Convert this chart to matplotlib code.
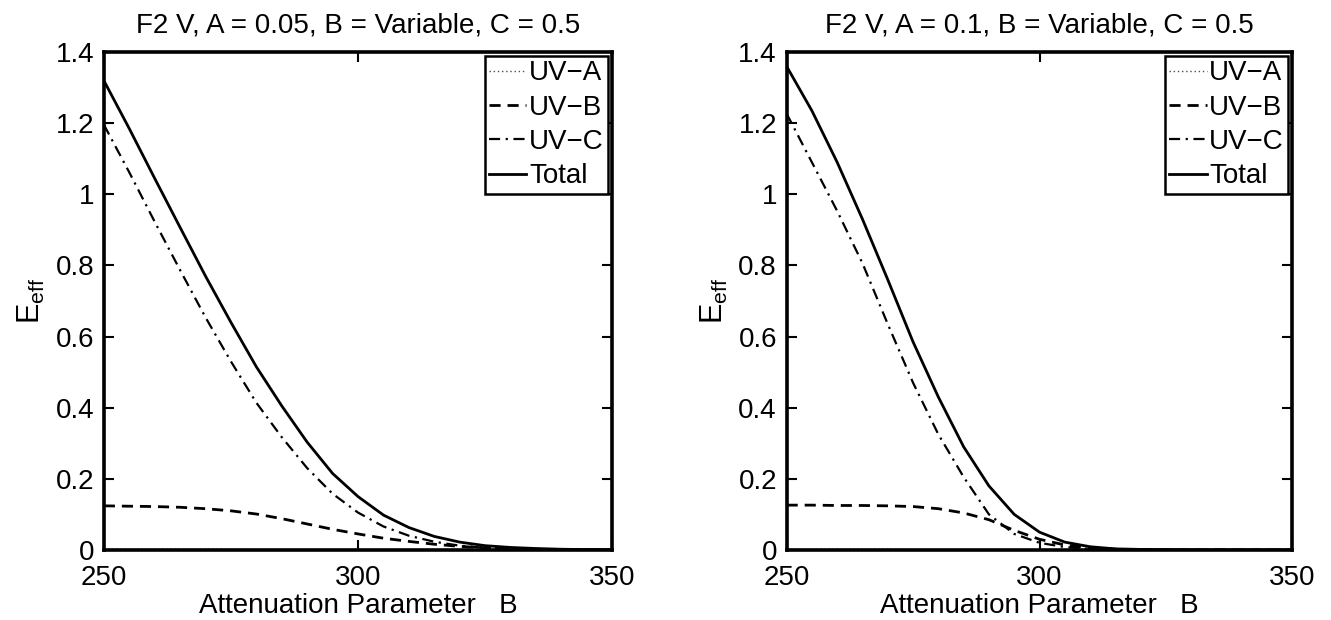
import matplotlib
matplotlib.use("Agg")
import matplotlib.pyplot as plt

plt.rcParams['font.family'] = ['Liberation Sans', 'DejaVu Sans']
plt.rcParams['mathtext.fontset'] = 'custom'
plt.rcParams['mathtext.rm'] = 'Liberation Sans'
plt.rcParams['mathtext.it'] = 'Liberation Sans'

# attenuation parameter B
b = [250, 255, 260, 265, 270, 275, 280, 285, 290, 295, 300,
     305, 310, 315, 320, 325, 330, 335, 340, 345, 350]

# A = 0.05
uva_1 = [0.002, 0.002, 0.002, 0.002, 0.002, 0.002, 0.001, 0.001, 0.001, 0.001, 0.001,
         0.001, 0.0005, 0.0005, 0.0005, 0.0003, 0.0002, 0.0001, 0.0001, 0.0, 0.0]
uvb_1 = [0.124, 0.123, 0.122, 0.120, 0.116, 0.110, 0.101, 0.088, 0.073, 0.058, 0.045,
         0.033, 0.024, 0.016, 0.010, 0.006, 0.004, 0.002, 0.001, 0.0005, 0.0002]
uvc_1 = [1.196, 1.062, 0.923, 0.787, 0.654, 0.530, 0.414, 0.317, 0.230, 0.158, 0.105,
         0.066, 0.040, 0.023, 0.012, 0.006, 0.003, 0.002, 0.001, 0.0005, 0.0002]
tot_1 = [1.320, 1.185, 1.045, 0.907, 0.770, 0.640, 0.515, 0.405, 0.303, 0.215, 0.150,
         0.098, 0.063, 0.038, 0.022, 0.012, 0.007, 0.004, 0.002, 0.001, 0.0005]

# A = 0.1
uva_2 = [0.002, 0.002, 0.002, 0.002, 0.002, 0.001, 0.001, 0.001, 0.0005, 0.0005, 0.0003,
         0.0002, 0.0001, 0.0, 0.0, 0.0, 0.0, 0.0, 0.0, 0.0, 0.0]
uvb_2 = [0.126, 0.126, 0.125, 0.125, 0.124, 0.122, 0.116, 0.104, 0.085, 0.055, 0.030,
         0.014, 0.006, 0.002, 0.001, 0.0003, 0.0001, 0.0, 0.0, 0.0, 0.0]
uvc_2 = [1.227, 1.090, 0.953, 0.806, 0.635, 0.470, 0.325, 0.205, 0.100, 0.045, 0.020,
         0.008, 0.003, 0.001, 0.0005, 0.0002, 0.0001, 0.0, 0.0, 0.0, 0.0]
tot_2 = [1.360, 1.235, 1.090, 0.930, 0.760, 0.585, 0.430, 0.290, 0.180, 0.100, 0.050,
         0.022, 0.009, 0.003, 0.0015, 0.0005, 0.0002, 0.0001, 0.0, 0.0, 0.0]

titles = ['F2 V, A = 0.05, B = Variable, C = 0.5',
          'F2 V, A = 0.1, B = Variable, C = 0.5']
yticks = [0, 0.2, 0.4, 0.6, 0.8, 1, 1.2, 1.4]
ytick_labels = ['0', '0.2', '0.4', '0.6', '0.8', '1', '1.2', '1.4']
xticks = [250, 300, 350]

fig = plt.figure(figsize=(13.31, 6.2), dpi=100)
ax1 = fig.add_axes([0.078, 0.113, 0.382, 0.803])
ax2 = fig.add_axes([0.591, 0.113, 0.380, 0.803])

data = [(uva_1, uvb_1, uvc_1, tot_1), (uva_2, uvb_2, uvc_2, tot_2)]

for ax, (uva, uvb, uvc, tot), title in zip([ax1, ax2], data, titles):
    ax.plot(b, uva, color='0.3', linestyle=(0, (1, 2)), linewidth=1.0, label='UV\u2212A')
    ax.plot(b, uvb, color='k', linestyle=(0, (4, 2.5)), linewidth=2.0, label='UV\u2212B')
    ax.plot(b, uvc, color='k', linestyle=(0, (5, 2.5, 1, 2.5)), linewidth=1.6, label='UV\u2212C')
    ax.plot(b, tot, color='k', linestyle='-', linewidth=2.0, label='Total')
    ax.set_xlim(250, 350)
    ax.set_ylim(0, 1.4)
    ax.set_xticks(xticks)
    ax.set_yticks(yticks)
    ax.set_yticklabels(ytick_labels)
    ax.tick_params(direction='in', top=True, right=True, length=7, width=1.5,
                   labelsize=20)
    ax.tick_params(axis='x', pad=11)
    ax.tick_params(axis='y', pad=7)
    for s in ax.spines.values():
        s.set_linewidth(2.6)
    ax.set_title(title, fontsize=20, pad=14)
    ax.set_xlabel('Attenuation Parameter   B', fontsize=20, labelpad=1)
    ax.set_ylabel(r'$\mathrm{E_{eff}}$', fontsize=22, labelpad=6)
    leg = ax.legend(loc='upper right', fontsize=20, handlelength=1.35, handletextpad=0.1,
                    borderpad=0.15, labelspacing=0.3, borderaxespad=0.15,
                    fancybox=False, framealpha=1)
    leg.get_frame().set_edgecolor('k')
    leg.get_frame().set_linewidth(1.8)

fig.savefig('out.png', dpi=100)
